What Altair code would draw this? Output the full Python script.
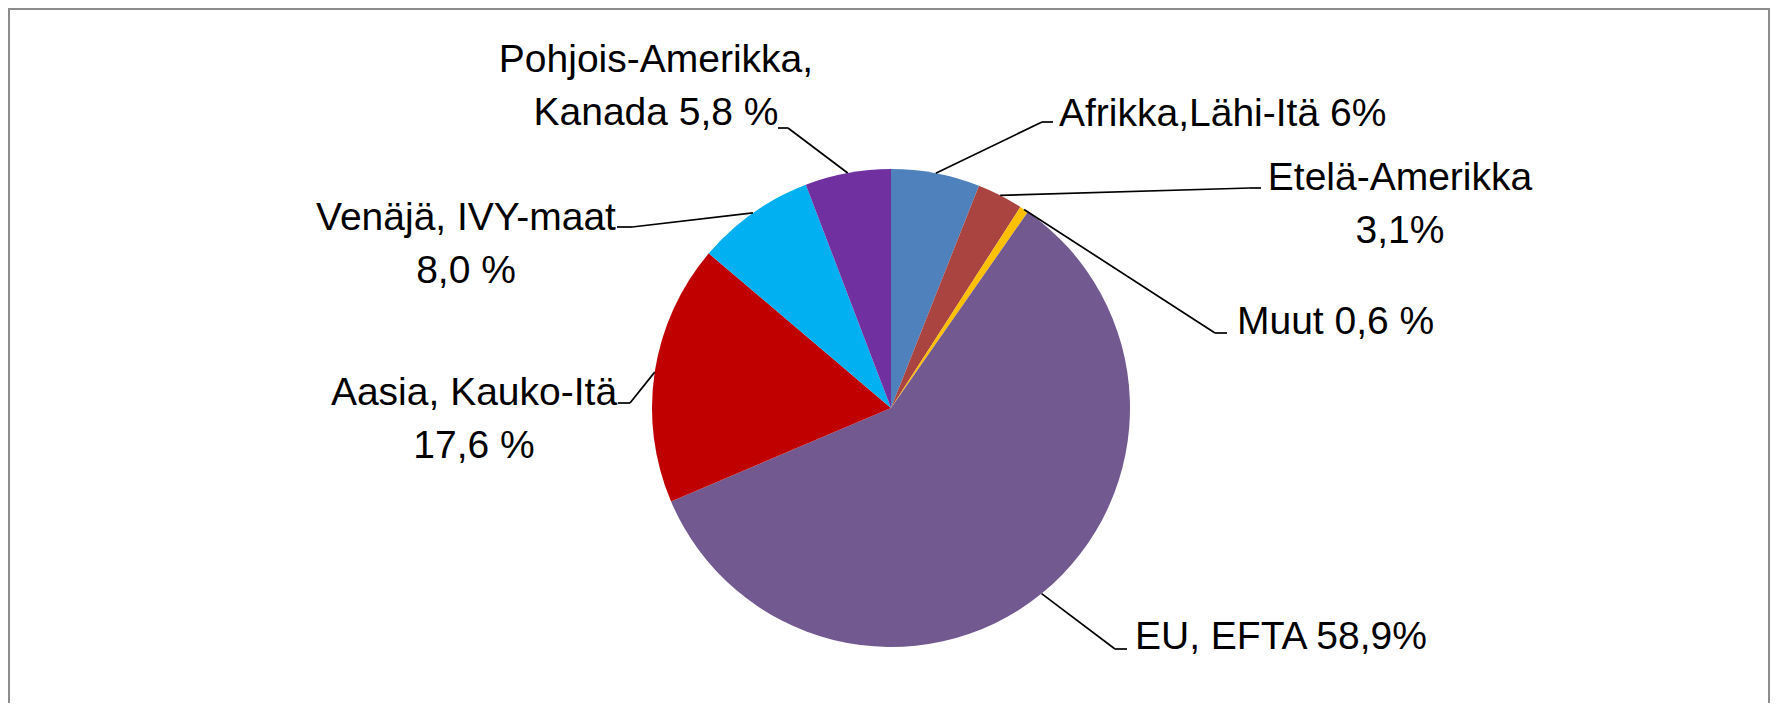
import altair as alt
import pandas as pd

# ---- data ----
categories = ["Afrikka,Lähi-Itä", "Etelä-Amerikka", "Muut", "EU, EFTA",
              "Aasia, Kauko-Itä", "Venäjä, IVY-maat", "Pohjois-Amerikka, Kanada"]
shares = [6.0, 3.1, 0.6, 58.9, 17.6, 8.0, 5.8]
label_texts = ["Afrikka,Lähi-Itä 6%", "Etelä-Amerikka\n3,1%", "Muut 0,6 %",
               "EU, EFTA 58,9%", "Aasia, Kauko-Itä\n17,6 %",
               "Venäjä, IVY-maat\n8,0 %", "Pohjois-Amerikka,\nKanada 5,8 %"]

# ---- style / layout ----
colors = ["#4F81BD", "#A94440", "#FFC000", "#72598F", "#C00000", "#00B0F0", "#7030A0"]
W, H = 1763, 695
CX, CY, R = 883, 400, 239
FONT = "Liberation Sans Narrow, Arial Narrow, Liberation Sans, sans-serif"
FS = 39
# leader elbow / end points and label anchor points (pixels)
elbow_x = [1034, 1242, 1207, 1107, 622, 624, 780]
elbow_y = [114, 180, 325, 641, 395, 219, 120]
end_x = [1045, 1253, 1219, 1119, 610, 609, 770]
end_y = [114, 180, 325, 641, 395, 219, 120]
text_x = [1051, 1392, 1229, 1127, 466, 458, 648]
text_y = [118, 182, 326, 641, 397, 222, 64]
text_align = ["left", "center", "left", "left", "center", "center", "center"]

df = pd.DataFrame({
    "cat": categories, "value": shares, "order": list(range(len(categories))),
    "label": label_texts,
    "ex": elbow_x, "ey": elbow_y, "nx": end_x, "ny": end_y,
    "tx": text_x, "ty": text_y, "al": text_align,
})

base = alt.Chart(df)

pie = base.mark_arc(outerRadius=R).encode(
    theta=alt.Theta("value:Q", stack=True),
    order=alt.Order("order:Q"),
    color=alt.Color("cat:N", scale=alt.Scale(domain=categories, range=colors), legend=None),
    x=alt.value(CX), y=alt.value(CY),
)

lead = base.transform_joinaggregate(total="sum(value)").transform_window(
    cum="sum(value)", sort=[alt.SortField("order")], frame=[None, 0]
).transform_calculate(
    mid="(datum.cum - datum.value/2) / datum.total * 2 * PI",
    sx=f"{CX} + {R} * sin(datum.mid)",
    sy=f"{CY} - {R} * cos(datum.mid)",
)

seg1 = lead.mark_rule(color="black", strokeWidth=1.7).encode(
    x=alt.X("sx:Q", scale=None), y=alt.Y("sy:Q", scale=None),
    x2="ex:Q", y2="ey:Q",
)
seg2 = base.mark_rule(color="black", strokeWidth=1.7).encode(
    x=alt.X("ex:Q", scale=None), y=alt.Y("ey:Q", scale=None),
    x2="nx:Q", y2="ny:Q",
)

txt_left = base.transform_filter("datum.al == 'left'").mark_text(
    font=FONT, fontSize=FS, align="left", baseline="alphabetic",
    lineBreak="\n", lineHeight=53, color="black",
).encode(x=alt.X("tx:Q", scale=None), y=alt.Y("ty:Q", scale=None), text="label:N")

txt_center = base.transform_filter("datum.al == 'center'").mark_text(
    font=FONT, fontSize=FS, align="center", baseline="alphabetic",
    lineBreak="\n", lineHeight=53, color="black",
).encode(x=alt.X("tx:Q", scale=None), y=alt.Y("ty:Q", scale=None), text="label:N")

frame = alt.Chart(pd.DataFrame({"f": [0]})).mark_rect(
    fill=None, stroke="#8c8c8c", strokeWidth=2
).encode(x=alt.value(1), x2=alt.value(W - 2), y=alt.value(1), y2=alt.value(H + 40))

chart = alt.layer(frame, pie, seg1, seg2, txt_left, txt_center).properties(
    width=W, height=H, padding=0, autosize=alt.AutoSizeParams(type="none"),
    background="white",
).configure_view(stroke=None)

chart.save("out.html", embed_options={"renderer": "svg", "actions": False})
